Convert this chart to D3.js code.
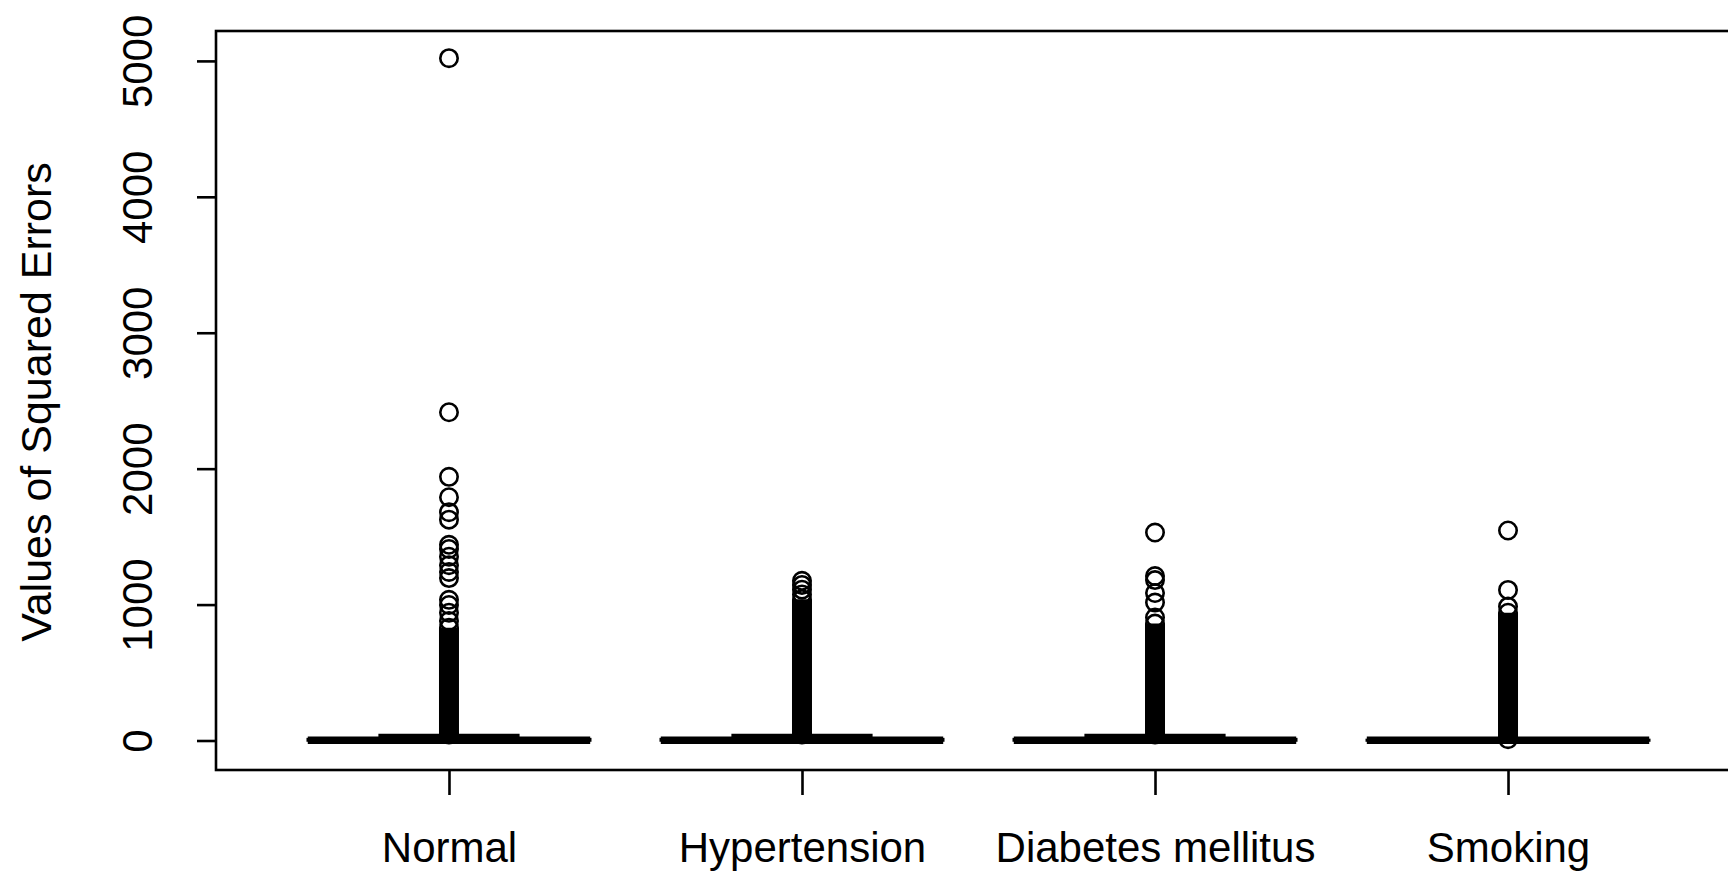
<!DOCTYPE html>
<html>
<head>
<meta charset="utf-8">
<script src="https://cdn.jsdelivr.net/npm/d3@7"></script>
<style>
  html, body { margin: 0; padding: 0; background: #fff; overflow: hidden; }
  svg { display: block; }
  text { font-family: "Liberation Sans", Arial, sans-serif; fill: #000; }
</style>
</head>
<body>
<svg id="chart"></svg>
<script>
// values
const categories = ["Normal", "Hypertension", "Diabetes mellitus", "Smoking"];
const q1 = [0.3, 0.3, 0.3, 0.2];
const medians = [1.5, 1.5, 1.5, 1];
const q3 = [10, 10, 10, 4];
const whiskerLow = [0, 0, 0, 0];
const whiskerHigh = [36, 36, 36, 9];
// outliers so dense they print as one solid column: [from, to]
const denseLow = [45, 45, 45, 10];
const denseHigh = [830, 1040, 860, 940];
const outliers = [
    [880, 940, 997, 1035, 1195, 1240, 1290, 1352, 1409, 1440, 1625, 1680, 1790, 1940, 2415, 5020],
    [1075, 1110, 1145, 1175],
    [905, 1015, 1085, 1180, 1210, 1530],
    [985, 1108, 1545]
];
const yTicks = [0, 1000, 2000, 3000, 4000, 5000];
const yTitle = "Values of Squared Errors";

const width = 1728, height = 872;
const plot = { left: 216, right: 1741, top: 31, bottom: 770 };
const r = 8.7;

const svg = d3.select("#chart")
    .attr("width", width)
    .attr("height", height)
    .attr("viewBox", `0 0 ${width} ${height}`);

// R style: groups at 1..n, range padded by 4%
const x = d3.scaleLinear()
    .domain([0.34, categories.length + 0.66])
    .range([plot.left, plot.right]);
const y = d3.scaleLinear()
    .domain([-217, 5220])
    .range([plot.bottom, plot.top]);

const boxW = (x(2) - x(1)) * 0.8;

const groups = categories.map((c, i) => ({
    name: c, pos: i + 1,
    q1: q1[i], med: medians[i], q3: q3[i],
    lo: whiskerLow[i], hi: whiskerHigh[i],
    dense: [denseLow[i], denseHigh[i]],
    out: outliers[i]
}));

const g = svg.append("g");

const box = g.selectAll("g.box")
    .data(groups)
    .join("g")
    .attr("class", "box");

// whiskers
box.append("line")
    .attr("x1", d => x(d.pos)).attr("x2", d => x(d.pos))
    .attr("y1", d => y(d.q3)).attr("y2", d => y(d.hi))
    .attr("stroke", "#000").attr("stroke-width", 2.6)
    .attr("stroke-dasharray", "8,8");
box.append("line")
    .attr("x1", d => x(d.pos) - boxW / 4).attr("x2", d => x(d.pos) + boxW / 4)
    .attr("y1", d => y(d.hi)).attr("y2", d => y(d.hi))
    .attr("stroke", "#000").attr("stroke-width", 3.6);
box.append("line")
    .attr("x1", d => x(d.pos) - boxW / 4).attr("x2", d => x(d.pos) + boxW / 4)
    .attr("y1", d => y(d.lo)).attr("y2", d => y(d.lo))
    .attr("stroke", "#000").attr("stroke-width", 2.6);

box.append("rect")
    .attr("x", d => x(d.pos) - boxW / 2)
    .attr("width", boxW)
    .attr("y", d => y(d.q3))
    .attr("height", d => y(d.q1) - y(d.q3))
    .attr("fill", "#fff")
    .attr("stroke", "#000").attr("stroke-width", 2.6);

box.append("line")
    .attr("x1", d => x(d.pos) - boxW / 2).attr("x2", d => x(d.pos) + boxW / 2)
    .attr("y1", d => y(d.med)).attr("y2", d => y(d.med))
    .attr("stroke", "#000").attr("stroke-width", 7.5);

// the solid run of outliers
box.append("line")
    .attr("x1", d => x(d.pos)).attr("x2", d => x(d.pos))
    .attr("y1", d => y(d.dense[0])).attr("y2", d => y(d.dense[1]))
    .attr("stroke", "#000").attr("stroke-width", 2 * r + 2.6);

box.selectAll("circle")
    .data(d => d.dense.concat(d.out).map(v => ({ pos: d.pos, v })))
    .join("circle")
    .attr("cx", d => x(d.pos))
    .attr("cy", d => y(d.v))
    .attr("r", r)
    .attr("fill", "none")
    .attr("stroke", "#000").attr("stroke-width", 2.6);

// frame
svg.append("rect")
    .attr("x", plot.left).attr("y", plot.top)
    .attr("width", plot.right - plot.left)
    .attr("height", plot.bottom - plot.top)
    .attr("fill", "none")
    .attr("stroke", "#000").attr("stroke-width", 2.6);

// y axis
const yAxis = svg.append("g")
    .attr("transform", `translate(${plot.left},0)`)
    .call(d3.axisLeft(y).tickValues(yTicks).tickSize(19).tickFormat(d3.format("d")));
yAxis.select(".domain").remove();
yAxis.selectAll(".tick line").attr("stroke", "#000").attr("stroke-width", 2.6);
yAxis.selectAll(".tick text")
    .attr("font-size", 42)
    .attr("transform", "rotate(-90)")
    .attr("x", 0).attr("y", -64)
    .attr("dy", 0)
    .attr("text-anchor", "middle");

// x axis
const xAxis = svg.append("g")
    .attr("transform", `translate(0,${plot.bottom})`)
    .call(d3.axisBottom(x).tickValues(groups.map(d => d.pos)).tickSize(25)
        .tickFormat(p => categories[p - 1]));
xAxis.select(".domain").remove();
xAxis.selectAll(".tick line").attr("stroke", "#000").attr("stroke-width", 2.6);
xAxis.selectAll(".tick text")
    .attr("font-size", 42)
    .attr("y", 92)
    .attr("dy", 0);

svg.append("text")
    .attr("transform", `translate(51,402) rotate(-90)`)
    .attr("text-anchor", "middle")
    .attr("font-size", 43)
    .text(yTitle);
</script>
</body>
</html>
